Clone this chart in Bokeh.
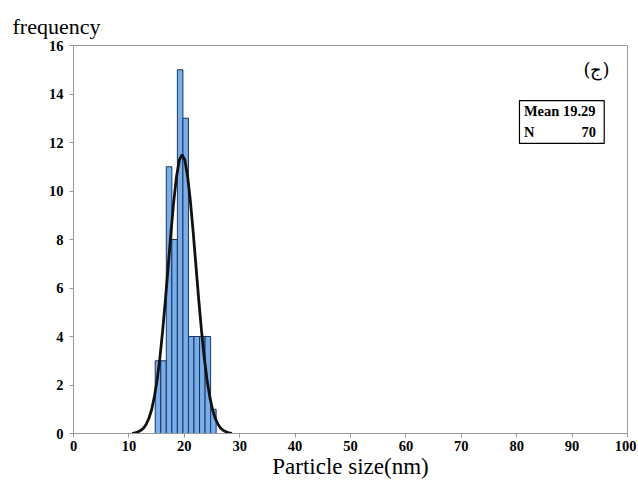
from bokeh.plotting import figure
from bokeh.models import ColumnDataSource, Label, BoxAnnotation, FixedTicker
from bokeh.embed import file_html
from bokeh.resources import INLINE

# Histogram data (bin centers in nm, counts)
bin_centers = [15.25, 16.25, 17.25, 18.25, 19.25, 20.25, 21.25, 22.25, 23.25, 24.25, 25.25]
counts = [3, 3, 11, 8, 15, 13, 4, 4, 4, 4, 1]
bin_width = 1.0

# Fitted normal curve
curve_x = [10.6, 11.1, 11.6, 12.1, 12.6, 13.1, 13.6, 14.1, 14.6, 15.1, 15.6, 16.1, 16.6,
           17.1, 17.6, 18.1, 18.6, 19.1, 19.6, 20.1, 20.6, 21.1, 21.6, 22.1, 22.6, 23.1,
           23.6, 24.1, 24.6, 25.1, 25.6, 26.1, 26.6, 27.1, 27.6, 28.1, 28.6]
curve_y = [0.01, 0.03, 0.06, 0.12, 0.21, 0.37, 0.62, 0.98, 1.51, 2.22, 3.13, 4.25, 5.53,
           6.92, 8.31, 9.58, 10.6, 11.27, 11.5, 11.27, 10.6, 9.58, 8.31, 6.92, 5.53, 4.25,
           3.13, 2.22, 1.51, 0.98, 0.62, 0.37, 0.21, 0.12, 0.06, 0.03, 0.01]

x_ticks = [0, 10, 20, 30, 40, 50, 60, 70, 80, 90, 100]
y_ticks = [0, 2, 4, 6, 8, 10, 12, 14, 16]

stats_mean = "Mean 19.29"
stats_n_label = "N"
stats_n_value = "70"
panel_tag = "(ج)"

FONT = "Liberation Serif"

p = figure(width=636, height=482, x_range=(0, 100), y_range=(0, 16),
           output_backend="svg", toolbar_location=None,
           min_border_left=73, min_border_right=9, min_border_top=45, min_border_bottom=49)

p.title.text = "frequency"
p.title.text_font = FONT
p.title.text_font_size = "22px"
p.title.text_font_style = "normal"
p.title.text_color = "black"
p.title.align = "left"
p.title.offset = -61
p.title.standoff = 14

src = ColumnDataSource(dict(x=bin_centers, top=counts))
p.vbar(x="x", top="top", bottom=0, width=bin_width, source=src,
       fill_color="#78aeea", line_color="#1b355e", line_width=1)

p.line(curve_x, curve_y, line_color="#111111", line_width=2.8)

p.xgrid.visible = False
p.ygrid.visible = False
p.outline_line_color = "#999999"
p.outline_line_width = 1

for ax in (p.xaxis[0], p.yaxis[0]):
    ax.axis_line_color = "#999999"
    ax.major_tick_line_color = "#999999"
    ax.major_tick_out = 4
    ax.major_tick_in = 0
    ax.minor_tick_line_color = None
    ax.major_label_text_font = FONT
    ax.major_label_text_font_size = "14.5px"
    ax.major_label_text_font_style = "bold"
    ax.major_label_text_color = "black"

p.xaxis[0].ticker = FixedTicker(ticks=x_ticks)
p.yaxis[0].ticker = FixedTicker(ticks=y_ticks)
p.xaxis[0].major_label_standoff = 3
p.yaxis[0].major_label_standoff = 6

p.xaxis[0].axis_label = "Particle size(nm)"
p.xaxis[0].axis_label_text_font = FONT
p.xaxis[0].axis_label_text_font_size = "23px"
p.xaxis[0].axis_label_text_font_style = "normal"
p.xaxis[0].axis_label_text_color = "black"
p.xaxis[0].axis_label_standoff = 0

box = BoxAnnotation(left=80.5, right=95.8, bottom=11.96, top=13.73,
                    fill_color="white", fill_alpha=1.0,
                    line_color="black", line_alpha=1.0, line_width=1.2)
p.add_layout(box)

p.add_layout(Label(x=81.3, y=13.3, text=stats_mean, text_font=FONT, text_font_size="14.5px",
                   text_font_style="bold", text_color="black",
                   text_baseline="middle", text_align="left"))
p.add_layout(Label(x=81.3, y=12.45, text=stats_n_label, text_font=FONT, text_font_size="14.5px",
                   text_font_style="bold", text_color="black",
                   text_baseline="middle", text_align="left"))
p.add_layout(Label(x=94.3, y=12.45, text=stats_n_value, text_font=FONT, text_font_size="14.5px",
                   text_font_style="bold", text_color="black",
                   text_baseline="middle", text_align="right"))
p.add_layout(Label(x=94.4, y=15.0, text=panel_tag, text_font="DejaVu Serif", text_font_size="18px",
                   text_color="black", text_baseline="middle", text_align="center"))

open("out.html", "w").write(file_html(p, INLINE))
